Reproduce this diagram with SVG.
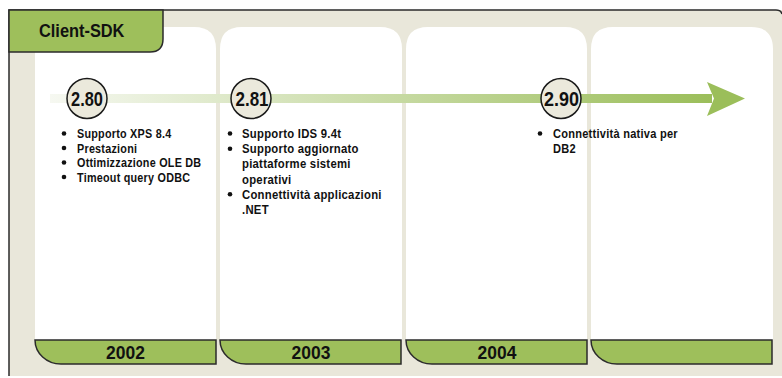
<svg xmlns="http://www.w3.org/2000/svg" width="782" height="378" viewBox="0 0 782 378">
<style>
.frame{fill:#e9e7da;}
.edge{fill:none;stroke:#2b2b2b;stroke-width:1.5;}
.panel{fill:#ffffff;}
.green{fill:#9ebf5b;stroke:#2b2b2b;stroke-width:1.5;}
.ms{fill:#ebe9dc;stroke:#1a1a1a;stroke-width:1.5;}
.t{font-family:"Liberation Sans",Arial,sans-serif;font-weight:bold;fill:#111;}
.item{font-size:13.5px;letter-spacing:0.3px;}
.year{font-size:19px;}
.ver{font-size:20px;}
.title{font-size:18px;}
.dot{fill:#111;}
</style>
<defs>
<linearGradient id="tl" gradientUnits="userSpaceOnUse" x1="50" y1="0" x2="712" y2="0">
<stop offset="0" stop-color="#f6f8f1"/>
<stop offset="1" stop-color="#9bbe5a"/>
</linearGradient>
</defs>

<g id="background">
<rect class="frame" x="9" y="10" width="773" height="366"/>
<path class="edge" d="M9,376 V10 H776 Q781,10 782,14"/>
</g>

<g id="panels">
<path class="panel" d="M35,340 V49 Q35,27 57,27 H194 Q216,27 216,49 V340 Z"/>
<path class="panel" d="M220,340 V49 Q220,27 242,27 H380 Q402,27 402,49 V340 Z"/>
<path class="panel" d="M406,340 V49 Q406,27 428,27 H565 Q587,27 587,49 V340 Z"/>
<path class="panel" d="M591,340 V49 Q591,27 613,27 H751 Q773,27 773,49 V340 Z"/>
</g>

<g id="tab-client-sdk">
<path class="green" d="M9,10 H163 V39 Q163,52 150,52 H9 Z"/>
<text class="t title" transform="matrix(0.91 0 0 1 39 37)">Client-SDK</text>
</g>

<g id="connectors">
<rect x="50" y="94" width="662" height="9" fill="url(#tl)"/>
<polygon points="707,82 745,98.5 707,116 714,98.5" fill="#9bbe5a"/>
</g>

<g id="milestone-280">
<circle class="ms" cx="87" cy="98.5" r="20"/>
<text class="t ver" transform="matrix(0.82 0 0 1 87 105.5)" text-anchor="middle">2.80</text>
</g>
<g id="milestone-281">
<circle class="ms" cx="251" cy="98.5" r="20"/>
<text class="t ver" transform="matrix(0.85 0 0 1 252 105.5)" text-anchor="middle">2.81</text>
</g>
<g id="milestone-290">
<circle class="ms" cx="561" cy="98.5" r="20"/>
<text class="t ver" transform="matrix(0.9 0 0 1 561.5 105.5)" text-anchor="middle">2.90</text>
</g>

<g id="list-2002">
<circle class="dot" cx="64" cy="133.5" r="2.3"/>
<circle class="dot" cx="64" cy="148" r="2.3"/>
<circle class="dot" cx="64" cy="162.5" r="2.3"/>
<circle class="dot" cx="64" cy="177" r="2.3"/>
<text class="t item" transform="matrix(0.8 0 0 1 77 138)">Supporto XPS 8.4</text>
<text class="t item" transform="matrix(0.8 0 0 1 77 152.5)">Prestazioni</text>
<text class="t item" transform="matrix(0.8 0 0 1 77 167)">Ottimizzazione OLE DB</text>
<text class="t item" transform="matrix(0.8 0 0 1 77 181.5)">Timeout query ODBC</text>
</g>

<g id="list-2003">
<circle class="dot" cx="230" cy="133.5" r="2.3"/>
<circle class="dot" cx="230" cy="148.7" r="2.3"/>
<circle class="dot" cx="230" cy="194.3" r="2.3"/>
<text class="t item" transform="matrix(0.84 0 0 1 242 138)">Supporto IDS 9.4t</text>
<text class="t item" transform="matrix(0.84 0 0 1 242 153.2)">Supporto aggiornato</text>
<text class="t item" transform="matrix(0.84 0 0 1 242 168.4)">piattaforme sistemi</text>
<text class="t item" transform="matrix(0.84 0 0 1 242 183.6)">operativi</text>
<text class="t item" transform="matrix(0.84 0 0 1 242 198.8)">Connettività applicazioni</text>
<text class="t item" transform="matrix(0.84 0 0 1 242 214)">.NET</text>
</g>

<g id="list-2005">
<circle class="dot" cx="540" cy="133.5" r="2.3"/>
<text class="t item" transform="matrix(0.82 0 0 1 553 138)">Connettività nativa per</text>
<text class="t item" transform="matrix(0.82 0 0 1 553 153)">DB2</text>
</g>

<g id="year-2002">
<path class="green" d="M35,340 H216 V364 H61 A26,24 0 0 1 35,340 Z"/>
<text class="t year" transform="matrix(0.92 0 0 1 125.5 359)" text-anchor="middle">2002</text>
</g>
<g id="year-2003">
<path class="green" d="M220,340 H401 V364 H246 A26,24 0 0 1 220,340 Z"/>
<text class="t year" transform="matrix(0.92 0 0 1 311 359)" text-anchor="middle">2003</text>
</g>
<g id="year-2004">
<path class="green" d="M406,340 H587 V364 H432 A26,24 0 0 1 406,340 Z"/>
<text class="t year" transform="matrix(0.92 0 0 1 497 359)" text-anchor="middle">2004</text>
</g>
<g id="year-2005">
<path class="green" d="M591,340 H772 V364 H617 A26,24 0 0 1 591,340 Z"/>
</g>
</svg>
